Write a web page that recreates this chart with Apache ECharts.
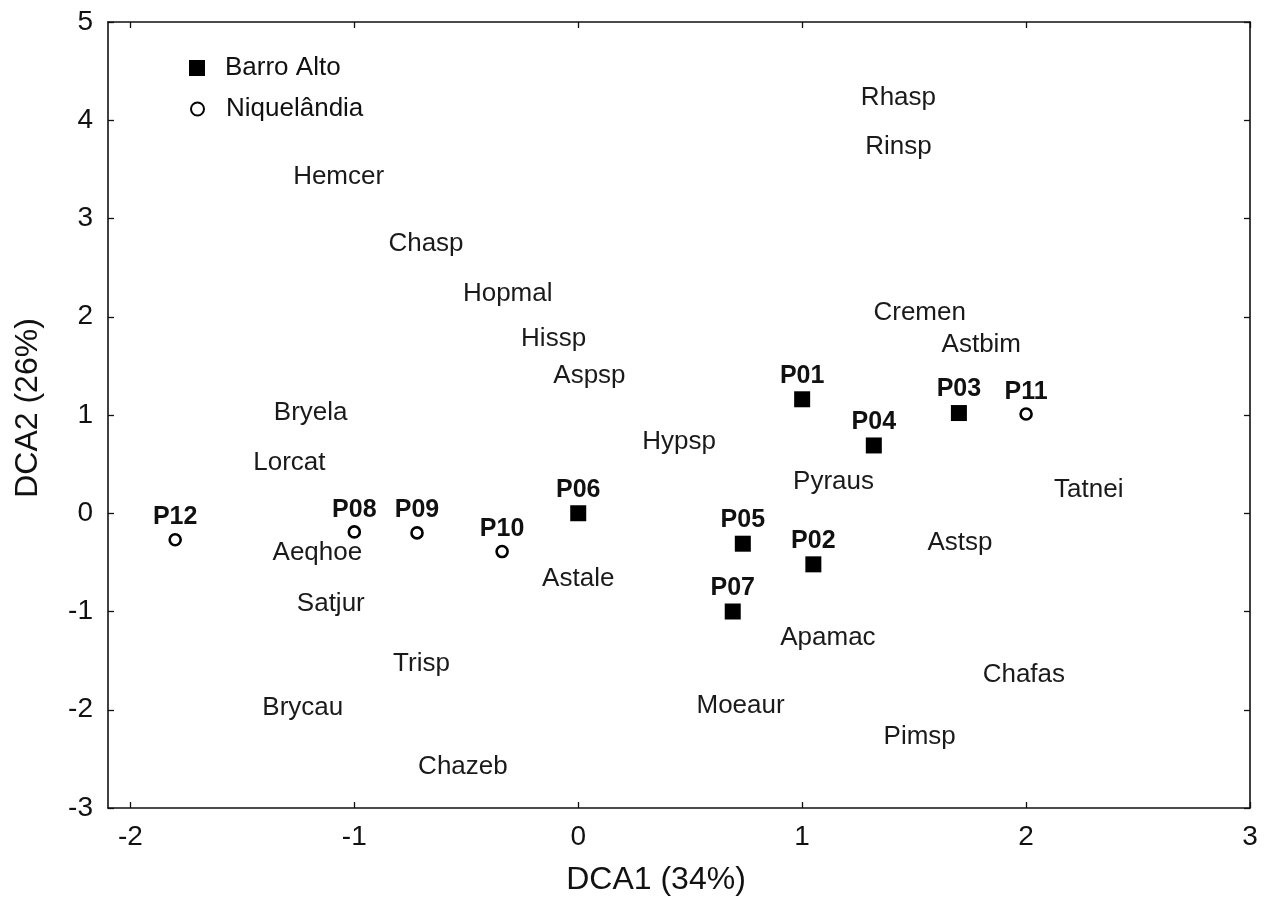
<!DOCTYPE html>
<html>
<head>
<meta charset="utf-8">
<title>DCA ordination</title>
<script src="https://cdn.jsdelivr.net/npm/echarts@6/dist/echarts.min.js"></script>
<style>
  html, body { margin: 0; padding: 0; background: #fff; }
  #chart { width: 1265px; height: 918px; }
</style>
</head>
<body>
<div id="chart"></div>
<script>
// Site scores on the first two DCA axes
const barroNames = ['P01', 'P02', 'P03', 'P04', 'P05', 'P06', 'P07'];
const barroX = [1.00, 1.05, 1.70, 1.32, 0.735, 0.00, 0.69];
const barroY = [1.16, -0.52, 1.02, 0.69, -0.31, 0.00, -1.00];

const niqNames = ['P08', 'P09', 'P10', 'P11', 'P12'];
const niqX = [-1.00, -0.72, -0.34, 2.00, -1.80];
const niqY = [-0.19, -0.20, -0.39, 1.01, -0.27];

// Species scores (drawn as text only)
const speciesNames = ['Rhasp', 'Rinsp', 'Hemcer', 'Chasp', 'Hopmal', 'Cremen', 'Hissp', 'Astbim',
  'Aspsp', 'Bryela', 'Hypsp', 'Lorcat', 'Pyraus', 'Tatnei', 'Aeqhoe', 'Astsp', 'Astale',
  'Satjur', 'Apamac', 'Trisp', 'Chafas', 'Brycau', 'Moeaur', 'Pimsp', 'Chazeb'];
const speciesX = [1.43, 1.43, -1.07, -0.68, -0.315, 1.525, -0.11, 1.80,
  0.05, -1.195, 0.45, -1.29, 1.14, 2.28, -1.165, 1.705, 0.00,
  -1.105, 1.115, -0.70, 1.99, -1.23, 0.725, 1.525, -0.515];
const speciesY = [4.23, 3.73, 3.42, 2.74, 2.23, 2.04, 1.78, 1.71,
  1.40, 1.02, 0.73, 0.51, 0.32, 0.24, -0.40, -0.30, -0.67,
  -0.92, -1.27, -1.53, -1.645, -1.98, -1.96, -2.275, -2.58];

const xTicks = [-2, -1, 0, 1, 2, 3];
const axisTitleX = 'DCA1 (34%)';
const axisTitleY = 'DCA2 (26%)';
const groupNames = ['Barro Alto', 'Niquelândia'];

const FONT = '"Liberation Sans", Arial, sans-serif';
const INK = '#111';

const zip = (names, xs, ys) => names.map((n, i) => ({ name: n, value: [xs[i], ys[i]] }));

const siteLabel = {
  show: true,
  position: 'top',
  distance: 3,
  formatter: '{b}',
  fontFamily: FONT,
  fontWeight: 'bold',
  fontSize: 25,
  color: INK
};

const frameLine = { show: true, onZero: false, lineStyle: { color: INK, width: 1.6 } };
const innerTick = { show: true, inside: true, length: 6, lineStyle: { color: INK, width: 1.3 } };
const legendText = { fontFamily: FONT, fontSize: 26, color: INK };

const chart = echarts.init(document.getElementById('chart'), null, { renderer: 'canvas' });

chart.setOption({
  backgroundColor: '#fff',
  animation: false,
  textStyle: { fontFamily: FONT },
  grid: { left: 108, right: 15, top: 22, bottom: 110, containLabel: false },
  legend: [
    {
      left: 184,
      top: 50,
      itemWidth: 16,
      itemHeight: 16,
      data: [groupNames[0]],
      textStyle: Object.assign({ padding: [0, 0, 0, 15] }, legendText)
    },
    {
      left: 185,
      top: 91,
      itemWidth: 13,
      itemHeight: 13,
      data: [groupNames[1]],
      textStyle: Object.assign({ padding: [0, 0, 0, 17] }, legendText)
    }
  ],
  xAxis: [
    {
      type: 'value', position: 'bottom', min: -2.1, max: 3.0,
      name: axisTitleX, nameLocation: 'middle', nameGap: 56,
      nameTextStyle: { fontFamily: FONT, fontSize: 32, color: INK, padding: [0, 46, 0, 0] },
      axisLine: frameLine,
      axisTick: Object.assign({ customValues: xTicks }, innerTick),
      axisLabel: { customValues: xTicks, margin: 15, fontFamily: FONT, fontSize: 28, color: INK },
      splitLine: { show: false }
    },
    {
      type: 'value', position: 'top', min: -2.1, max: 3.0,
      axisLine: frameLine,
      axisTick: Object.assign({ customValues: xTicks }, innerTick),
      axisLabel: { show: false },
      splitLine: { show: false }
    }
  ],
  yAxis: [
    {
      type: 'value', position: 'left', min: -3, max: 5, interval: 1,
      name: axisTitleY, nameLocation: 'middle', nameGap: 64, nameRotate: 90,
      nameTextStyle: { fontFamily: FONT, fontSize: 32, color: INK, padding: [0, 0, 0, 14] },
      axisLine: frameLine,
      axisTick: innerTick,
      axisLabel: { margin: 15, fontFamily: FONT, fontSize: 28, color: INK },
      splitLine: { show: false }
    },
    {
      type: 'value', position: 'right', min: -3, max: 5, interval: 1,
      axisLine: frameLine,
      axisTick: innerTick,
      axisLabel: { show: false },
      splitLine: { show: false }
    }
  ],
  series: [
    {
      name: 'species',
      type: 'scatter',
      symbolSize: 0,
      silent: true,
      itemStyle: { opacity: 1 },
      data: zip(speciesNames, speciesX, speciesY),
      label: {
        show: true,
        position: 'inside',
        formatter: '{b}',
        fontFamily: FONT,
        fontSize: 26,
        color: '#1a1a1a'
      },
      z: 2
    },
    {
      name: groupNames[0],
      type: 'scatter',
      symbol: 'rect',
      symbolSize: 16,
      itemStyle: { color: '#000', opacity: 1 },
      data: zip(barroNames, barroX, barroY),
      label: siteLabel,
      z: 3
    },
    {
      name: groupNames[1],
      type: 'scatter',
      symbol: 'circle',
      symbolSize: 11,
      itemStyle: { color: '#fff', borderColor: '#000', borderWidth: 2.6, opacity: 1 },
      data: zip(niqNames, niqX, niqY),
      label: siteLabel,
      z: 3
    }
  ]
});
</script>
</body>
</html>
